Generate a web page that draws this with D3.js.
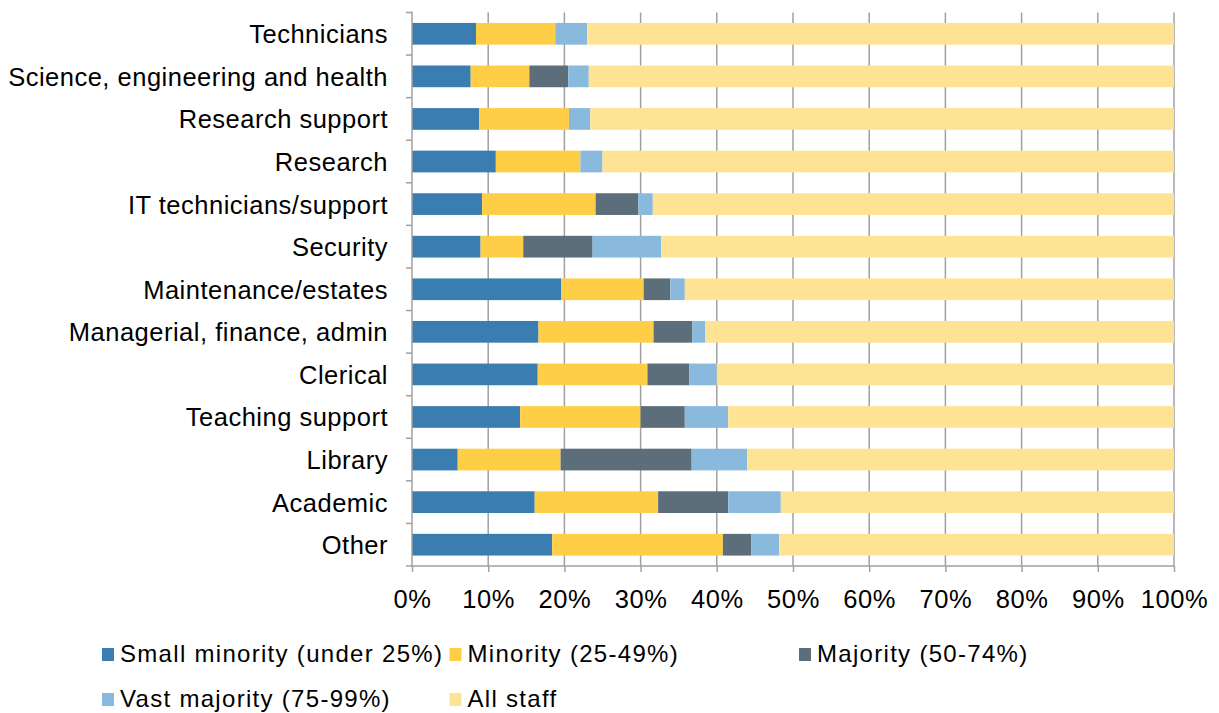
<!DOCTYPE html>
<html><head><meta charset="utf-8">
<script src="https://cdn.jsdelivr.net/npm/d3@7/dist/d3.min.js"></script>
<style>
html,body{margin:0;padding:0;background:#fff;}
svg{display:block;font-family:"Liberation Sans",Arial,sans-serif;}
</style></head>
<body><svg id="chart" width="1219" height="713"></svg>
<script>
const categories = ["Technicians","Science, engineering and health","Research support","Research","IT technicians/support","Security","Maintenance/estates","Managerial, finance, admin","Clerical","Teaching support","Library","Academic","Other"];
const seriesNames = ["Small minority (under 25%)","Minority (25-49%)","Majority (50-74%)","Vast majority (75-99%)","All staff"];
const smallMinority = [8.4, 7.7, 8.8, 11.0, 9.2, 9.0, 19.6, 16.6, 16.5, 14.2, 6.0, 16.1, 18.4];
const minority      = [10.4, 7.7, 11.8, 11.1, 14.9, 5.6, 10.8, 15.1, 14.4, 15.8, 13.5, 16.2, 22.4];
const majority      = [0, 5.1, 0, 0, 5.6, 9.1, 3.5, 5.1, 5.5, 5.8, 17.2, 9.2, 3.7];
const vastMajority  = [4.2, 2.7, 2.8, 2.9, 1.9, 9.0, 1.9, 1.7, 3.6, 5.7, 7.3, 6.9, 3.7];
const allStaff      = [77.0, 76.8, 76.6, 75.0, 68.4, 67.3, 64.2, 61.5, 60.0, 58.5, 56.0, 51.6, 51.8];
const tickValues = [0,10,20,30,40,50,60,70,80,90,100];
const colors = ["#3a7eb1","#ffce47","#5c6e79","#89b9dc","#ffe394"];

const svg = d3.select("#chart");
const mLeft = 412, mRight = 1174, mTop = 12.5, mBottom = 566;
const x = d3.scaleLinear().domain([0,100]).range([mLeft,mRight]);
const y = d3.scaleBand().domain(categories).range([mTop,mBottom]).paddingInner(0.49).paddingOuter(0.245);
const yTicks = d3.scaleBand().domain(categories).range([mTop,mBottom]);

const rows = categories.map((c,i)=>({cat:c, s0:smallMinority[i], s1:minority[i], s2:majority[i], s3:vastMajority[i], s4:allStaff[i]}));
const stack = d3.stack().keys(["s0","s1","s2","s3","s4"]).offset(d3.stackOffsetExpand);
const stacked = stack(rows);

// gridlines
svg.append("g").selectAll("line").data(tickValues.slice(1)).join("line")
  .attr("x1",d=>x(d)).attr("x2",d=>x(d)).attr("y1",mTop).attr("y2",mBottom)
  .attr("stroke","#a0a0a0").attr("stroke-width",1.5);

// bars
svg.append("g").selectAll("g").data(stacked).join("g")
  .attr("fill",(d,i)=>colors[i])
  .selectAll("rect").data(d=>d).join("rect")
  .attr("x",d=>x(d[0]*100)).attr("width",d=>x(d[1]*100)-x(d[0]*100))
  .attr("y",d=>y(d.data.cat)).attr("height",y.bandwidth());

// x axis
const xAxis = d3.axisBottom(x).tickValues(tickValues).tickFormat(d=>d+"%").tickSize(6).tickPadding(12);
const gx = svg.append("g").attr("transform",`translate(0,${mBottom})`).call(xAxis);
gx.select(".domain").attr("stroke","#a0a0a0").attr("stroke-width",1.5).attr("d",`M${mLeft},0H${mRight}`);
gx.selectAll(".tick line").attr("stroke","#a0a0a0").attr("stroke-width",1.5);
gx.selectAll(".tick text").attr("y",42).attr("dy",null).attr("font-size",25.5).attr("letter-spacing",0.6)
  .attr("fill","#000").attr("font-family","Liberation Sans, Arial, sans-serif");

// y axis
const gy = svg.append("g").attr("transform",`translate(${mLeft},0)`);
gy.append("line").attr("x1",0).attr("x2",0).attr("y1",mTop-1).attr("y2",mBottom).attr("stroke","#a0a0a0").attr("stroke-width",1.5);
const tickYs = categories.map(c=>yTicks(c)).concat([mBottom]);
gy.selectAll("line.tk").data(tickYs).join("line").attr("class","tk")
  .attr("x1",-6).attr("x2",0).attr("y1",d=>d).attr("y2",d=>d).attr("stroke","#a0a0a0").attr("stroke-width",1.5);
gy.selectAll("text").data(categories).join("text")
  .attr("x",-24).attr("y",d=>y(d)+y.bandwidth()/2+9.5)
  .attr("text-anchor","end").attr("font-size",25.5).attr("letter-spacing",0.5).attr("fill","#000").text(d=>d);

// legend
const legendPos = [[102,662],[449.5,662],[799,662],[102,707],[449.5,707]];
const lg = svg.append("g").selectAll("g").data(seriesNames).join("g")
  .attr("transform",(d,i)=>`translate(${legendPos[i][0]},${legendPos[i][1]})`);
lg.append("rect").attr("x",0).attr("y",-14).attr("width",12).attr("height",13).attr("fill",(d,i)=>colors[i]);
lg.append("text").attr("x",18).attr("y",0).attr("font-size",24).attr("letter-spacing",1.3).attr("fill","#000").text(d=>d);
</script></body></html>
